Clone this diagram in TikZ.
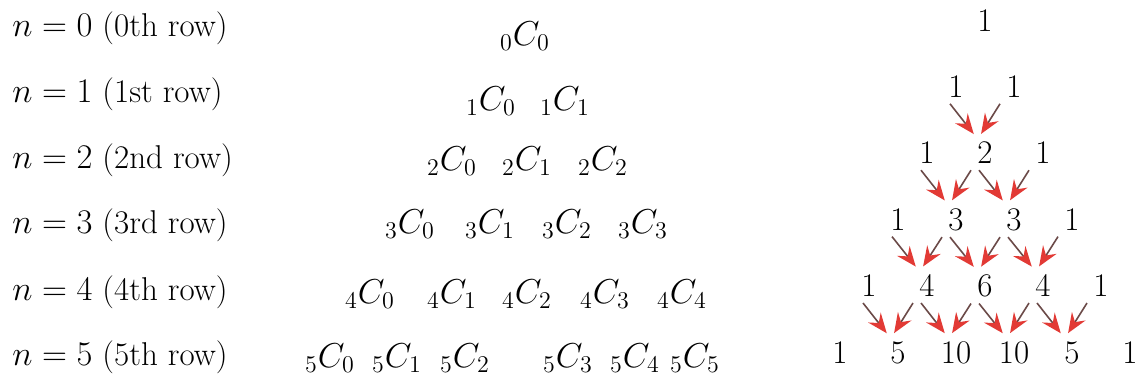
\documentclass[tikz,border=0pt]{standalone}
\usepackage{tikz}
\usetikzlibrary{arrows.meta}

\definecolor{arrowred}{HTML}{E23A35}
\definecolor{shaftbrown}{HTML}{6B4A48}
\newcommand{\binc}[2]{\textsubscript{#1}\textit{C}\textsubscript{#2}}

\tikzset{
    rowlabel/.style={anchor=base west, inner sep=0pt, font=\fontsize{16.5}{20}\selectfont},
    term/.style={anchor=base, inner sep=0pt, font=\fontsize{16.5}{20}\selectfont},
    num/.style={anchor=base, inner sep=3pt},
    add/.style={draw=shaftbrown, line width=0.8pt, shorten >=1pt,
        -{Stealth[length=10pt, width=8pt, inset=3.5pt, color=arrowred]}}
}

\begin{document}
\begin{tikzpicture}[x=0.5pt, y=-0.5pt, every node/.style={font=\fontsize{16.5}{19}\selectfont}]
    \useasboundingbox (0,0) rectangle (1140,382);

    % row labels
    \foreach \n/\y/\txt in {0/36/0th, 1/102/1st, 2/168/2nd, 3/233/3rd, 4/300/4th, 5/365/5th}
        \node (L\n) [rowlabel] at (12,\y) {$n = \n$ (\txt\ row)};

    % combinations
    \foreach \n/\y/\xs in {0/45/{525}, 1/110/{491,565}, 2/170/{452,527,603},
            3/233/{410,490,567,643}, 4/303/{370,452,527,605,682},
            5/367/{330,397,465,568,635,695}}
        \foreach \x [count=\k from 0] in \xs
            \node (C\n-\k) [term] at (\x,\y) {$_{\n}C_{\k}$};

    % Pascal numbers
    \foreach \n/\vals in {0/{1}, 1/{1,1}, 2/{1,2,1}, 3/{1,3,3,1}, 4/{1,4,6,4,1}, 5/{1,5,10,10,5,1}}
        \foreach \v [count=\k from 0] in \vals {
            \pgfmathsetmacro\px{985+29*(2*\k-\n)}
            \pgfmathsetmacro\py{31+66.4*\n}
            \node (P\n-\k) [num] at (\px,\py) {\v};
        }

    % sums
    \foreach \n in {1,...,4} {
        \pgfmathtruncatemacro\m{\n+1}
        \foreach \k in {1,...,\n} {
            \pgfmathtruncatemacro\j{\k-1}
            \draw[add] ([xshift=-3pt]P\n-\j.south) -- ([xshift=-5pt]P\m-\k.north);
            \draw[add] ([xshift=-7pt]P\n-\k.south) -- ([xshift=-2.5pt]P\m-\k.north);
        }
    }
\end{tikzpicture}
\end{document}
